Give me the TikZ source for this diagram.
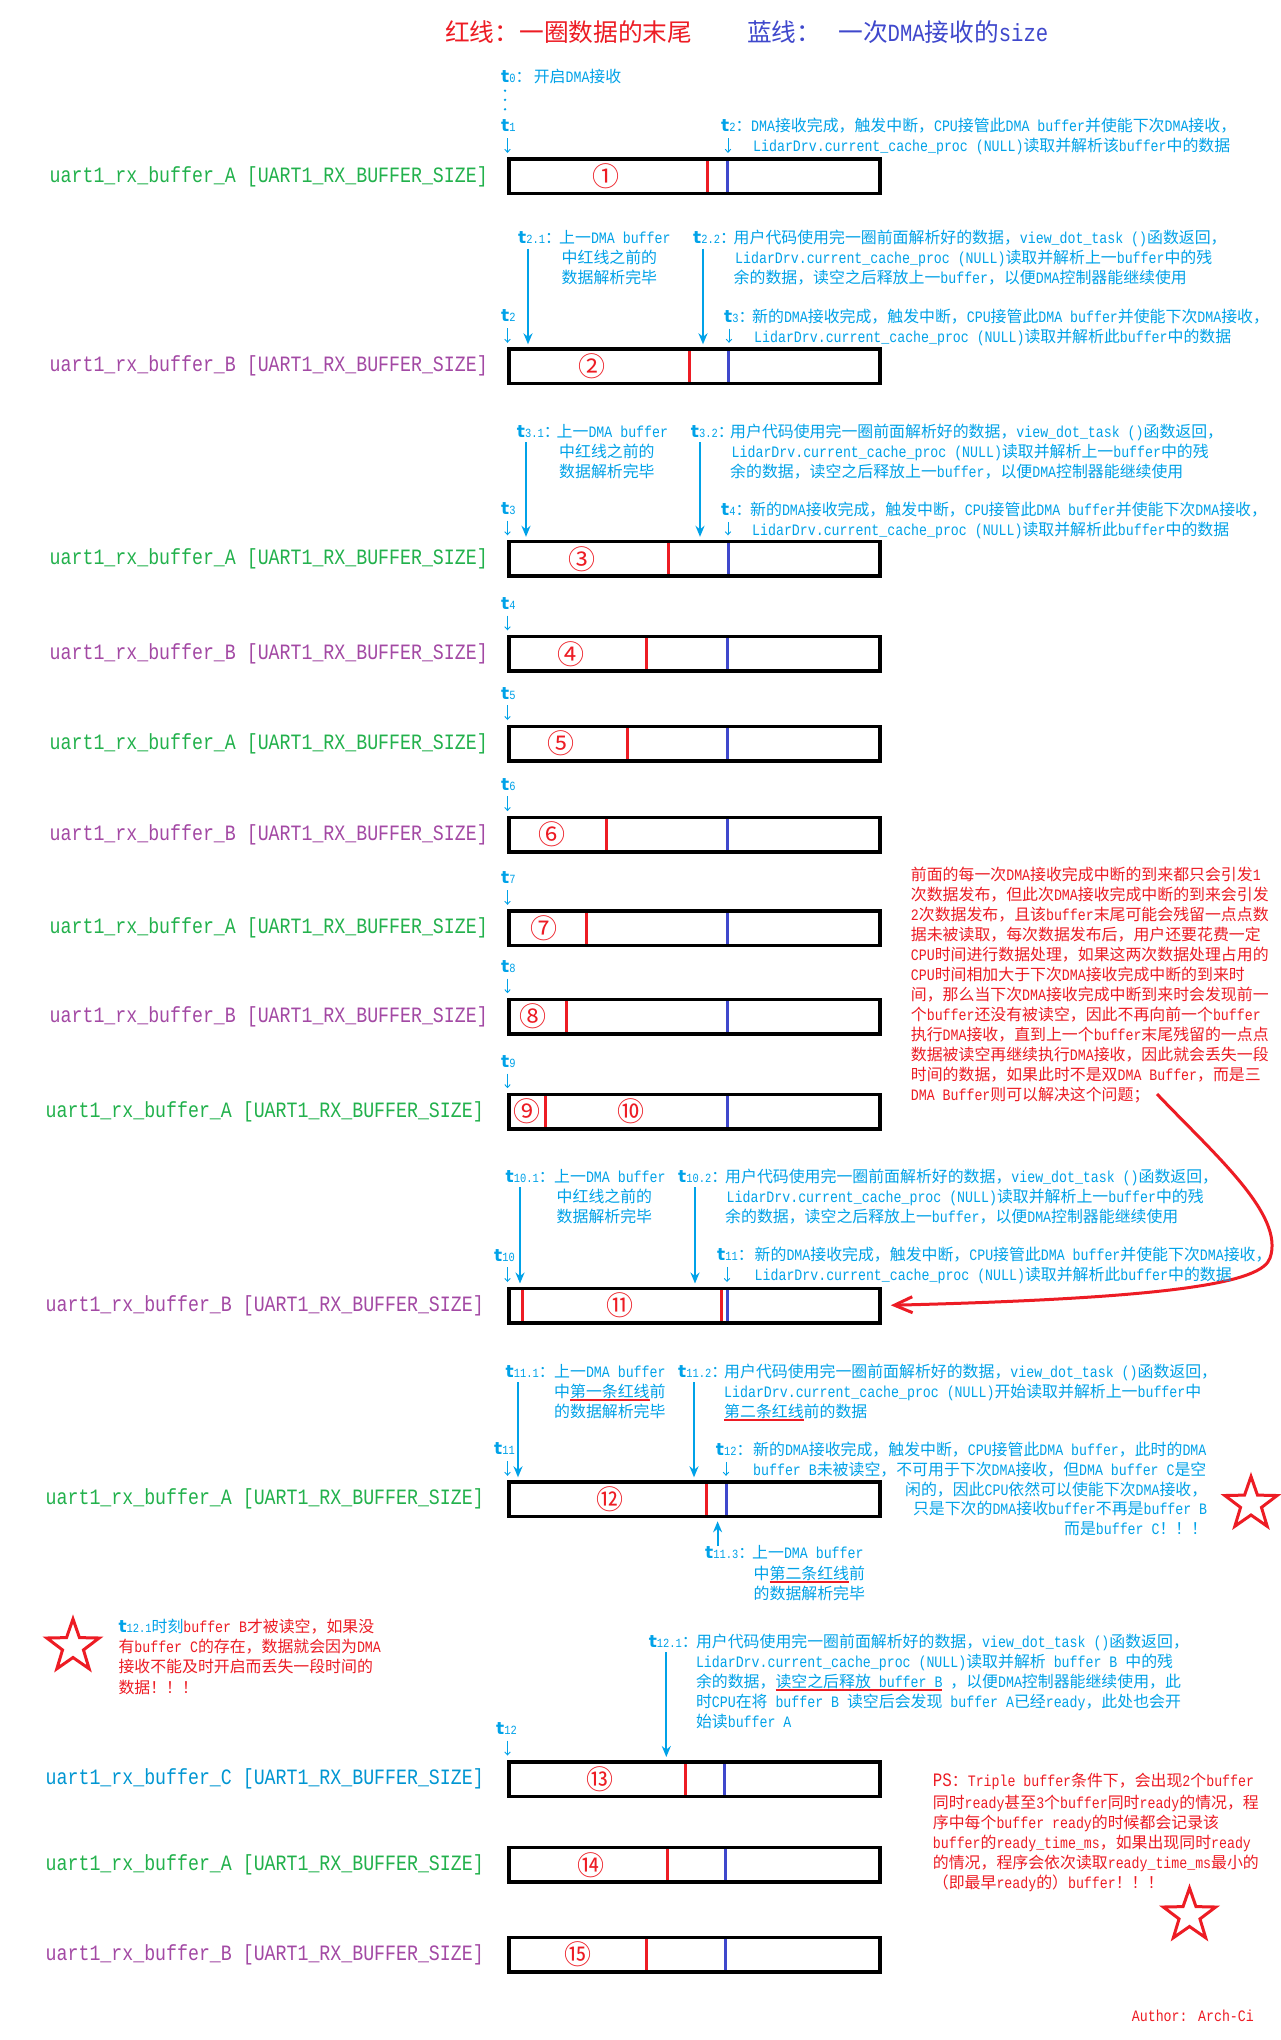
\documentclass[tikz,border=0pt]{standalone}
\usepackage{fontspec}
\usetikzlibrary{arrows.meta,shapes.geometric}
\setmainfont{Liberation Mono}[FakeStretch=0.8333]
\newfontfamily\cjkfont{Noto Sans CJK SC}
\newfontfamily\circfont{Noto Sans CJK SC}
\newfontfamily\dvs{DejaVu Sans}
\definecolor{tred}{RGB}{237,28,36}
\definecolor{tblue}{RGB}{63,72,204}
\definecolor{tcyan}{RGB}{0,162,232}
\definecolor{tgreen}{RGB}{34,177,76}
\definecolor{tpurple}{RGB}{163,73,164}
\definecolor{tccol}{RGB}{0,150,210}
% automatic CJK font switching
\XeTeXinterchartokenstate=1
\chardef\CJKcls=50
\newcount\cjkcnt
\def\setcjkrange#1#2{\cjkcnt=#1\relax
  \loop\XeTeXcharclass\cjkcnt=\CJKcls\relax
  \ifnum\cjkcnt<#2\relax\advance\cjkcnt by 1\relax\repeat}
\setcjkrange{"4E00}{"9FFF}
\setcjkrange{"3000}{"303F}
\setcjkrange{"FF00}{"FFEF}
\XeTeXinterchartoks 0 \CJKcls={\begingroup\cjkfont}
\XeTeXinterchartoks 4095 \CJKcls={\begingroup\cjkfont}
\XeTeXinterchartoks \CJKcls 0={\endgroup}
\XeTeXinterchartoks \CJKcls 4095={\endgroup}
% helpers
\newcommand\annsize{\fontsize{15.9pt}{20pt}\selectfont}
\newcommand\labsize{\fontsize{21.9pt}{24pt}\selectfont}
\newcommand\tlab[1]{{\dvs\bfseries\fontsize{17pt}{17pt}\selectfont t}{\fontsize{12.5pt}{13pt}\selectfont#1}}
\newcommand\Ls[2][20pt]{\vtop{\baselineskip=#1\relax\lineskiplimit=-100pt\lineskip=0pt\relax #2}}
\newcommand\lyne[1]{\hbox{#1}}
\newcommand\lyneL[1]{\hbox to 454pt{#1\hfil}}
\newcommand\lyneR[1]{\hbox to 454pt{\hfil#1}}
\newbox\ulbox
\newcommand\redul[1]{\setbox\ulbox=\hbox{#1}\rlap{\color{tred}\rule[-4.4pt]{\wd\ulbox}{2.4pt}}\box\ulbox}
\newcommand\mk[3]{\draw[#1] (#2,#3-15.6) -- (#2,#3+15.6);}
\newcommand\txtA{\Ls{\lyne{上一DMA buffer}\lyne{\hspace{2.5pt}中红线之前的}\lyne{\hspace{2.5pt}数据解析完毕}}}
\newcommand\txtB{\Ls{\lyne{用户代码使用完一圈前面解析好的数据，view\_dot\_task ()函数返回，}\lyne{\hspace{1.5pt}LidarDrv.current\_cache\_proc (NULL)读取并解析上一buffer中的残}\lyne{余的数据，读空之后释放上一buffer，以便DMA控制器能继续使用}}}
\newcommand\txtC{\Ls{\lyne{新的DMA接收完成，触发中断，CPU接管此DMA buffer并使能下次DMA接收，}\lyne{\hspace{2pt}LidarDrv.current\_cache\_proc (NULL)读取并解析此buffer中的数据}}}
\tikzset{
  buf/.style={draw=black, line width=3.5pt, minimum width=371pt, minimum height=34.5pt, inner sep=0pt},
  lab/.style={anchor=east, inner sep=0pt, font=\labsize},
  ann/.style={anchor=base west, inner sep=0pt, font=\annsize, text=tcyan},
  rtxt/.style={anchor=base west, inner sep=0pt, font=\annsize, text=tred},
  ttl/.style={anchor=base west, inner sep=0pt, font=\fontsize{24.7pt}{28pt}\selectfont},
  larr/.style={tcyan, line width=1.8pt, -{Stealth[length=11pt,width=9pt]}},
  sarr/.style={tcyan, line width=0.9pt, -{Straight Barb[length=3pt,width=5.5pt]}},
  redln/.style={tred, line width=3pt},
  blueln/.style={tblue, line width=3pt},
  circ/.style={inner sep=0pt, text=tred, font=\circfont\fontsize{27pt}{29pt}\selectfont},
  rstar/.style={star, star points=5, star point ratio=2.5, draw=tred, line width=3pt, minimum size=55pt, inner sep=0pt},
  redarr/.style={tred, line width=3pt, -{Straight Barb[length=18pt,width=16pt]}},
}
\begin{document}
\begin{tikzpicture}[x=1pt,y=-1pt]
\fill[white] (0,0) rectangle (1280,2040);
\useasboundingbox (0,0) rectangle (1280,2040);
% ---------- title
\node[ttl, text=tred] (title1) at (445,41.5) {红线：一圈数据的末尾};
\node[ttl, text=tblue] (title2) at (747,41.5) {蓝线：\hspace{17pt}一次DMA接收的size};
% ---------- marker lines inside buffers
\mk{redln}{707.5}{176.4}\mk{blueln}{727}{176.4}
\mk{redln}{689}{366.3}\mk{blueln}{728}{366.3}
\mk{redln}{668.8}{558.8}\mk{blueln}{728}{558.8}
\mk{redln}{646.5}{653.8}\mk{blueln}{727}{653.8}
\mk{redln}{627}{743.5}\mk{blueln}{727}{743.5}
\mk{redln}{606}{834.6}\mk{blueln}{727}{834.6}
\mk{redln}{586.7}{928.3}\mk{blueln}{727}{928.3}
\mk{redln}{566}{1016.7}\mk{blueln}{727}{1016.7}
\mk{redln}{545}{1111.7}\mk{blueln}{727}{1111.7}
\mk{redln}{522}{1305.5}\mk{redln}{721}{1305.5}\mk{blueln}{727}{1305.5}
\mk{redln}{706}{1499.3}\mk{blueln}{726.5}{1499.3}
\mk{redln}{685}{1779}\mk{blueln}{724.5}{1779}
\mk{redln}{667}{1864.8}\mk{blueln}{725}{1864.8}
\mk{redln}{646.5}{1954.6}\mk{blueln}{725}{1954.6}
% ---------- buffers
\node[buf] (b1) at (694.5,176.4) {};
\node[buf] (b2) at (694.5,366.3) {};
\node[buf] (b3) at (694.5,558.8) {};
\node[buf] (b4) at (694.5,653.8) {};
\node[buf] (b5) at (694.5,743.5) {};
\node[buf] (b6) at (694.5,834.6) {};
\node[buf] (b7) at (694.5,928.3) {};
\node[buf] (b8) at (694.5,1016.7) {};
\node[buf] (b9) at (694.5,1111.7) {};
\node[buf] (b11) at (694.5,1305.5) {};
\node[buf] (b12) at (694.5,1499.3) {};
\node[buf] (b13) at (694.5,1779) {};
\node[buf] (b14) at (694.5,1864.8) {};
\node[buf] (b15) at (694.5,1954.6) {};
% ---------- circled numbers
\node[circ] (c1) at (606,176.4) {①};
\node[circ] (c2) at (592,366.3) {②};
\node[circ] (c3) at (581.5,558.8) {③};
\node[circ] (c4) at (571,653.8) {④};
\node[circ] (c5) at (561,743.5) {⑤};
\node[circ] (c6) at (551.5,834.6) {⑥};
\node[circ] (c7) at (544,928.3) {⑦};
\node[circ] (c8) at (533,1016.7) {⑧};
\node[circ] (c9) at (527,1111.7) {⑨};
\node[circ] (c10) at (631,1111.7) {⑩};
\node[circ] (c11) at (620,1305.5) {⑪};
\node[circ] (c12) at (610,1499.3) {⑫};
\node[circ] (c13) at (600,1779) {⑬};
\node[circ] (c14) at (590.5,1864.8) {⑭};
\node[circ] (c15) at (577.5,1954.6) {⑮};
% ---------- buffer labels
\node[lab, text=tgreen] (l1) at (488,176.4) {uart1\_rx\_buffer\_A [UART1\_RX\_BUFFER\_SIZE]};
\node[lab, text=tpurple] (l2) at (488,366.3) {uart1\_rx\_buffer\_B [UART1\_RX\_BUFFER\_SIZE]};
\node[lab, text=tgreen] (l3) at (488,558.8) {uart1\_rx\_buffer\_A [UART1\_RX\_BUFFER\_SIZE]};
\node[lab, text=tpurple] (l4) at (488,653.8) {uart1\_rx\_buffer\_B [UART1\_RX\_BUFFER\_SIZE]};
\node[lab, text=tgreen] (l5) at (488,743.5) {uart1\_rx\_buffer\_A [UART1\_RX\_BUFFER\_SIZE]};
\node[lab, text=tpurple] (l6) at (488,834.6) {uart1\_rx\_buffer\_B [UART1\_RX\_BUFFER\_SIZE]};
\node[lab, text=tgreen] (l7) at (488,928.3) {uart1\_rx\_buffer\_A [UART1\_RX\_BUFFER\_SIZE]};
\node[lab, text=tpurple] (l8) at (488,1016.7) {uart1\_rx\_buffer\_B [UART1\_RX\_BUFFER\_SIZE]};
\node[lab, text=tgreen] (l9) at (484,1111.7) {uart1\_rx\_buffer\_A [UART1\_RX\_BUFFER\_SIZE]};
\node[lab, text=tpurple] (l11) at (484,1305.5) {uart1\_rx\_buffer\_B [UART1\_RX\_BUFFER\_SIZE]};
\node[lab, text=tgreen] (l12) at (484,1499.3) {uart1\_rx\_buffer\_A [UART1\_RX\_BUFFER\_SIZE]};
\node[lab, text=tccol] (l13) at (484,1779) {uart1\_rx\_buffer\_C [UART1\_RX\_BUFFER\_SIZE]};
\node[lab, text=tgreen] (l14) at (484,1864.8) {uart1\_rx\_buffer\_A [UART1\_RX\_BUFFER\_SIZE]};
\node[lab, text=tpurple] (l15) at (484,1954.6) {uart1\_rx\_buffer\_B [UART1\_RX\_BUFFER\_SIZE]};
% ---------- t labels above each buffer
\node[ann] (t0) at (501,82.3) {\tlab{0}：};
\node[ann] (t0x) at (533.6,82.3) {开启DMA接收};
\foreach \yy in {90.7,99.8,109.3} \fill[tcyan] (505,\yy) circle (1.3pt);
\node[ann] (t1) at (501,131.9) {\tlab{1}};
\node[ann] (t2) at (501,321.8) {\tlab{2}};
\node[ann] (t3) at (501,514.3) {\tlab{3}};
\node[ann] (t4) at (501,609.3) {\tlab{4}};
\node[ann] (t5) at (501,699) {\tlab{5}};
\node[ann] (t6) at (501,790.1) {\tlab{6}};
\node[ann] (t7) at (501,883.8) {\tlab{7}};
\node[ann] (t8) at (501,972.2) {\tlab{8}};
\node[ann] (t9) at (501,1067.2) {\tlab{9}};
\node[ann] (t10) at (494,1261) {\tlab{10}};
\node[ann] (t11) at (494,1454.8) {\tlab{11}};
\node[ann] (t12) at (496,1734.5) {\tlab{12}};
\foreach \n/\b in {t1/b1,t2/b2,t3/b3,t4/b4,t5/b5,t6/b6,t7/b7,t8/b8,t9/b9,t10/b11,t11/b12,t12/b13}
  \draw[sarr, shorten <=6pt, shorten >=4.5pt] (507.5,0 |- \n.south) -- (507.5,0 |- \b.north);
% ---------- row 1
\node[ann] (t2r) at (721,131.9) {\tlab{2}：};
\node[ann] (t2rx) at (751,131.9) {\Ls{\lyne{DMA接收完成，触发中断，CPU接管此DMA buffer并使能下次DMA接收，}\lyne{\hspace{2pt}LidarDrv.current\_cache\_proc (NULL)读取并解析该buffer中的数据}}};
\draw[sarr, shorten <=6pt, shorten >=4.5pt] (728,0 |- t2r.south) -- (728,0 |- b1.north);
% ---------- row 2
\node[ann] (t21) at (518,243.5) {\tlab{2.1}：};
\node[ann] (t21x) at (559,243.5) {\txtA};
\node[ann] (t22) at (693,243.5) {\tlab{2.2}：};
\node[ann] (t22x) at (733.5,243.5) {\txtB};
\node[ann] (t3r) at (724,322.3) {\tlab{3}：};
\node[ann] (t3rx) at (752,322.3) {\txtC};
\coordinate (a21) at (528,248.5);
\coordinate (a22) at (703,248.5);
\draw[larr, shorten >=3pt] (a21) -- (528,0 |- b2.north);
\draw[larr, shorten >=3pt] (a22) -- (703,0 |- b2.north);
\draw[sarr, shorten <=6pt, shorten >=4.5pt] (729,0 |- t3r.south) -- (729,0 |- b2.north);
% ---------- row 3
\node[ann] (t31) at (516.7,437.2) {\tlab{3.1}：};
\node[ann] (t31x) at (556.5,437.2) {\txtA};
\node[ann] (t32) at (690.7,437.2) {\tlab{3.2}：};
\node[ann] (t32x) at (730,437.2) {\txtB};
\node[ann] (t4r) at (721,515.5) {\tlab{4}：};
\node[ann] (t4rx) at (750,515.5) {\txtC};
\coordinate (a31) at (526,442);
\coordinate (a32) at (700,442);
\draw[larr, shorten >=3pt] (a31) -- (526,0 |- b3.north);
\draw[larr, shorten >=3pt] (a32) -- (700,0 |- b3.north);
\draw[sarr, shorten <=6pt, shorten >=4.5pt] (728,0 |- t4r.south) -- (728,0 |- b3.north);
% ---------- red paragraph
\node[rtxt] (para) at (910.7,880.5) {\Ls{%
\lyne{前面的每一次DMA接收完成中断的到来都只会引发1}%
\lyne{次数据发布，但此次DMA接收完成中断的到来会引发}%
\lyne{2次数据发布，且该buffer末尾可能会残留一点点数}%
\lyne{据未被读取，每次数据发布后，用户还要花费一定}%
\lyne{CPU时间进行数据处理，如果这两次数据处理占用的}%
\lyne{CPU时间相加大于下次DMA接收完成中断的到来时}%
\lyne{间，那么当下次DMA接收完成中断到来时会发现前一}%
\lyne{个buffer还没有被读空，因此不再向前一个buffer}%
\lyne{执行DMA接收，直到上一个buffer末尾残留的一点点}%
\lyne{数据被读空再继续执行DMA接收，因此就会丢失一段}%
\lyne{时间的数据，如果此时不是双DMA Buffer，而是三}%
\lyne{DMA Buffer则可以解决这个问题；}}};
\coordinate (cs) at (1157,1094);
\draw[redarr, shorten >=9pt] (cs) .. controls (1215,1155) and (1285,1215) .. (1270,1258)
   .. controls (1262,1282) and (1180,1298) .. (b11.east);
% ---------- row 10
\node[ann] (t101) at (505.5,1182) {\tlab{10.1}：};
\node[ann] (t101x) at (554,1182) {\txtA};
\node[ann] (t102) at (678,1182) {\tlab{10.2}：};
\node[ann] (t102x) at (725,1182) {\txtB};
\node[ann] (t11r) at (717,1260.5) {\tlab{11}：};
\node[ann] (t11rx) at (754.5,1260.5) {\Ls{\lyne{新的DMA接收完成，触发中断，CPU接管此DMA buffer并使能下次DMA接收，}\lyne{LidarDrv.current\_cache\_proc (NULL)读取并解析此buffer中的数据}}};
\coordinate (a101) at (520,1187);
\coordinate (a102) at (695,1187);
\draw[larr, shorten >=3pt] (a101) -- (520,0 |- b11.north);
\draw[larr, shorten >=3pt] (a102) -- (695,0 |- b11.north);
\draw[sarr, shorten <=6pt, shorten >=4.5pt] (727,0 |- t11r.south) -- (727,0 |- b11.north);
% ---------- row 12
\node[ann] (t111) at (505.5,1377) {\tlab{11.1}：};
\node[ann] (t111x) at (554,1377) {\Ls{\lyne{上一DMA buffer}\lyne{中\redul{第一条红线}前}\lyne{的数据解析完毕}}};
\node[ann] (t112) at (678,1377) {\tlab{11.2}：};
\node[ann] (t112x) at (724,1377) {\Ls{\lyne{用户代码使用完一圈前面解析好的数据，view\_dot\_task ()函数返回，}\lyne{LidarDrv.current\_cache\_proc (NULL)开始读取并解析上一buffer中}\lyne{\redul{第二条红线}前的数据}}};
\node[ann] (t12r) at (715.7,1455.5) {\tlab{12}：};
\node[ann] (t12rx) at (753,1455.5) {\Ls[19.8pt]{%
\lyneL{新的DMA接收完成，触发中断，CPU接管此DMA buffer，此时的DMA}%
\lyneL{buffer B未被读空，不可用于下次DMA接收，但DMA buffer C是空}%
\lyneR{闲的，因此CPU依然可以使能下次DMA接收，}%
\lyneR{只是下次的DMA接收buffer不再是buffer B}%
\lyneR{而是buffer C！！！}}};
\coordinate (a111) at (518,1382);
\coordinate (a112) at (694,1382);
\draw[larr, shorten >=3pt] (a111) -- (518,0 |- b12.north);
\draw[larr, shorten >=3pt] (a112) -- (694,0 |- b12.north);
\draw[sarr, shorten <=6pt, shorten >=4.5pt] (726,0 |- t12r.south) -- (726,0 |- b12.north);
\node[rstar] (s1) at (1251,1504) {};
% t11.3 below buffer 12
\node[ann] (t113) at (705,1558.5) {\tlab{11.3}：};
\node[ann] (t113x) at (752,1558.5) {\Ls[20.5pt]{\lyne{上一DMA buffer}\lyne{\hspace{1.5pt}中\redul{第二条红线}前}\lyne{\hspace{1.5pt}的数据解析完毕}}};
\coordinate (a113) at (717.6,1546);
\draw[larr, shorten >=3pt] (a113) -- (717.6,0 |- b12.south);
% ---------- left note with star
\node[rstar] (s2) at (73,1646.5) {};
\node[rtxt] (note) at (118.3,1632) {\Ls[20.4pt]{%
\lyne{{\color{tcyan}\tlab{12.1}时刻}buffer B才被读空，如果没}%
\lyne{有buffer C的存在，数据就会因为DMA}%
\lyne{接收不能及时开启而丢失一段时间的}%
\lyne{数据！！！}}};
% ---------- t12.1
\node[ann] (t121) at (648.6,1647) {\tlab{12.1}：};
\node[ann] (t121x) at (695.8,1647) {\Ls{%
\lyne{用户代码使用完一圈前面解析好的数据，view\_dot\_task ()函数返回，}%
\lyne{LidarDrv.current\_cache\_proc (NULL)读取并解析 buffer B 中的残}%
\lyne{余的数据，\redul{读空之后释放 buffer B} ，以便DMA控制器能继续使用，此}%
\lyne{时CPU在将 buffer B 读空后会发现 buffer A已经ready，此处也会开}%
\lyne{始读buffer A}}};
\coordinate (a121) at (666.3,1652);
\draw[larr, shorten >=3pt] (a121) -- (666.3,0 |- b13.north);
% ---------- PS note
\node[rtxt] (ps1) at (932.7,1786) {{\fontsize{19pt}{20pt}\selectfont PS}：Triple buffer条件下，会出现2个buffer};
\node[rtxt] (ps2) at (932.7,1808.5) {\Ls{%
\lyne{同时ready甚至3个buffer同时ready的情况，程}%
\lyne{序中每个buffer ready的时候都会记录该}%
\lyne{buffer的ready\_time\_ms，如果出现同时ready}%
\lyne{的情况，程序会依次读取ready\_time\_ms最小的}%
\lyne{（即最早ready的）buffer！！！}}};
\node[rstar] (s3) at (1189.5,1915.5) {};
\node[rtxt] (author) at (1131.7,2021.5) {Author: Arch-Ci};
\end{tikzpicture}
\end{document}
